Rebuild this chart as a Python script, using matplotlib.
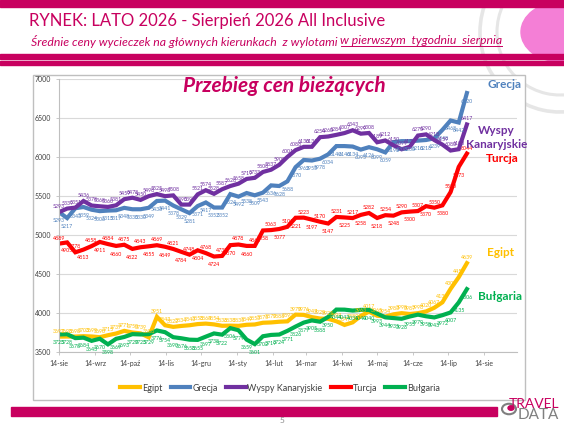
import numpy as np
import pandas as pd
import matplotlib
matplotlib.use('Agg')
from matplotlib import pyplot as plt
from matplotlib.patches import Rectangle, Circle, Arc
from matplotlib.lines import Line2D

plt.rcParams['font.family'] = ['Lato', 'DejaVu Sans']

# weekly price snapshots, starting 14 Aug 2025
dates = pd.date_range('2025-08-14', periods=51, freq='7D')

egipt = [3697, 3698, 3698, 3703, 3699, 3690, 3715, 3737, 3771, 3750, 3739, 3688, 3951,
         3843, 3822, 3834, 3843, 3858, 3864, 3854, 3836, 3838, 3835, 3849, 3853, 3875,
         3879, 3888, 3893, 3979, 3976, 3947, 3929, 3925, 3894, 3847, 3880, 3963, 4017,
         3965, 3954, 3983, 3998, 3987, 3998, 4020, 4067, 4137, 4309, 4459, 4639]
grecja = [5293, 5217, 5343, 5359, 5324, 5306, 5313, 5317, 5348, 5330, 5330, 5349, 5436,
          5441, 5378, 5329, 5281, 5371, 5417, 5352, 5352, 5524, 5492, 5538, 5509, 5543,
          5636, 5628, 5688, 5870, 5962, 5955, 5978, 6034, 6140, 6140, 6134, 6095, 6126,
          6099, 6059, 6192, 6203, 6203, 6210, 6218, 6239, 6348, 6468, 6442, 6820]
wyspy = [5293, 5339, 5351, 5436, 5378, 5368, 5360, 5381, 5459, 5478, 5450, 5498, 5525,
         5498, 5508, 5390, 5390, 5521, 5574, 5528, 5587, 5628, 5658, 5719, 5733, 5808,
         5837, 5900, 6001, 6088, 6130, 6131, 6254, 6263, 6284, 6307, 6343, 6299, 6308,
         6189, 6212, 6150, 6099, 6131, 6275, 6290, 6218, 6159, 6083, 6100, 6417]
turcja = [4889, 4905, 4778, 4813, 4858, 4911, 4884, 4860, 4875, 4822, 4843, 4855, 4869,
          4849, 4821, 4784, 4748, 4804, 4768, 4724, 4732, 4870, 4878, 4860, 4860, 5058,
          5063, 5077, 5105, 5221, 5223, 5197, 5170, 5147, 5231, 5225, 5217, 5258, 5282,
          5218, 5254, 5248, 5290, 5300, 5307, 5370, 5350, 5380, 5550, 5873, 6044]
bulgaria = [3725, 3728, 3678, 3684, 3643, 3670, 3598, 3669, 3693, 3729, 3725, 3729, 3776,
            3754, 3690, 3676, 3658, 3655, 3697, 3738, 3722, 3806, 3779, 3659, 3601, 3702,
            3719, 3724, 3771, 3826, 3877, 3905, 3888, 3950, 4044, 4043, 4031, 4040, 4040,
            3993, 3944, 3935, 3926, 3955, 3979, 3958, 3943, 3972, 4007, 4135, 4306]

tick_dates = pd.date_range('2025-08-14', periods=13, freq=pd.DateOffset(months=1))
tick_labels = ['14-sie', '14-wrz', '14-paź', '14-lis', '14-gru', '14-sty', '14-lut',
               '14-mar', '14-kwi', '14-maj', '14-cze', '14-lip', '14-sie']

series = [
    ('Egipt', egipt, '#FFC000'),
    ('Grecja', grecja, '#4F81BD'),
    ('Wyspy Kanaryjskie', wyspy, '#7030A0'),
    ('Turcja', turcja, '#FF0000'),
    ('Bułgaria', bulgaria, '#00B050'),
]

MAG = '#C8005F'
W, H = 564, 423


def fx(x):
    return x / W


def fy(y):
    return 1 - y / H


fig = plt.figure(figsize=(5.64, 4.23), dpi=100)
tf = fig.transFigure

# page decoration
for r, lw in [(80, 2.6), (63, 2.2)]:
    fig.patches.append(Arc((fx(560), fy(32)), 2 * r / W, 2 * r / H, theta1=80, theta2=280,
                           transform=tf, color='#E6E6E6', lw=lw, zorder=0))
fig.patches.append(Circle((fx(561), fy(32)), 40 / W, transform=tf, color='#F47FD6', zorder=0))
fig.patches.append(Rectangle((0, fy(7)), 1, 7 / H, transform=tf, color=MAG, zorder=1))
fig.patches.append(Rectangle((0, fy(59.5)), 1, 5 / H, transform=tf, color=MAG, zorder=1))
fig.patches.append(Rectangle((0, fy(65)), 1, 3.5 / H, transform=tf, color=MAG, zorder=1))
fig.patches.append(Rectangle((fx(11), fy(416)), 486 / W, 9 / H, transform=tf,
                             color=MAG, zorder=1))
fig.patches.append(Rectangle((fx(33), fy(400)), 492 / W, 325 / H, transform=tf,
                             facecolor='white', edgecolor='#BFBFBF', lw=1, zorder=1))

fig.text(fx(29), fy(21), 'RYNEK: LATO 2026 - Sierpień 2026 All Inclusive',
         fontsize=12, color=MAG, va='center', ha='left')

# subtitle in two parts, the second one underlined
renderer = fig.canvas.get_renderer()
sub_a = fig.text(fx(31), fy(41), 'Średnie ceny wycieczek na głównych kierunkach  z wylotami ',
                 fontsize=8, color=MAG, style='italic', va='center', ha='left')
sub_b = fig.text(0, fy(41), 'w pierwszym  tygodniu  sierpnia', fontsize=8, color=MAG,
                 style='italic', va='center', ha='left')
wa = sub_a.get_window_extent(renderer).width
wb = sub_b.get_window_extent(renderer).width
fs = 8 * (502 - 31) / (wa + wb)
sub_a.set_fontsize(fs)
sub_b.set_fontsize(fs)
wa = sub_a.get_window_extent(renderer).width
x_b = 31 + wa
sub_b.set_x(fx(x_b))
fig.lines.append(Line2D([fx(x_b), fx(502)], [fy(46.5), fy(46.5)], transform=tf,
                        color=MAG, lw=0.7))

fig.text(fx(282), fy(420), '5', fontsize=6, color='#8C8C8C', ha='center', va='center')
fig.text(fx(559), fy(404), 'TRAVEL', fontsize=10, color=MAG, ha='right', va='center')
fig.text(fx(559), fy(415), 'DATA', fontsize=11, color='#7F7F7F', ha='right', va='center')
fig.patches.append(Circle((fx(509), fy(409)), 7 / W, transform=tf,
                          facecolor='none', edgecolor='#7F7F7F', lw=1.5))
fig.patches.append(Circle((fx(511), fy(408)), 3 / W, transform=tf, color=MAG))

ax = fig.add_axes([fx(59), fy(352), (517 - 59) / W, (352 - 79) / H])
ax.set_zorder(2)
ax.patch.set_alpha(0)

for name, vals, col in series:
    ax.plot(dates, vals, color=col, lw=3, label=name, solid_joinstyle='miter')
    for j, (d, v) in enumerate(zip(dates, vals)):
        if name in ('Wyspy Kanaryjskie', 'Egipt'):
            off = 4
        elif name in ('Grecja', 'Bułgaria'):
            off = -6
        else:
            off = 4 if j % 2 == 0 else -6
        ax.annotate(str(v), (d, v), xytext=(0, off), textcoords='offset points',
                    fontsize=3.8, color=col, ha='center', va='center')

ax.set_ylim(3500, 7000)
ax.set_yticks(range(3500, 7001, 500))
ax.set_xlim(pd.Timestamp('2025-08-14'), pd.Timestamp('2025-08-14') + pd.Timedelta(days=393))
ax.set_xticks(tick_dates)
ax.set_xticklabels(tick_labels)
ax.tick_params(axis='both', labelsize=5, labelcolor='#404040', length=2, width=0.6,
               color='#BFBFBF')
ax.grid(axis='y', color='#D9D9D9', lw=0.8)
ax.set_axisbelow(True)
for s in ['top', 'right']:
    ax.spines[s].set_visible(False)
for s in ['left', 'bottom']:
    ax.spines[s].set_color('#BFBFBF')
    ax.spines[s].set_linewidth(0.8)

fig.text(fx(284), fy(86), 'Przebieg cen bieżących', fontsize=15, color=MAG,
         style='italic', weight='bold', ha='center', va='center', zorder=3)

# series names on the right
names = [('Grecja', 487, 85, '#4F81BD'), ('Wyspy', 478, 130, '#7030A0'),
         ('Kanaryjskie', 466, 144, '#7030A0'), ('Turcja', 486, 159, '#FF0000'),
         ('Egipt', 487, 252, '#FFC000'), ('Bułgaria', 478, 296, '#00B050')]
for t, x, y, c in names:
    fig.text(fx(x), fy(y), t, fontsize=8.5, color=c, weight='bold', ha='left',
             va='center', zorder=3)

leg = fig.legend(loc='center', bbox_to_anchor=(fx(280), fy(388)), ncol=5, frameon=False,
                 fontsize=6.5, handlelength=2.2, columnspacing=0.9, handletextpad=0.2)
for t in leg.get_texts():
    t.set_color('#404040')

fig.savefig('out.png', dpi=100)
